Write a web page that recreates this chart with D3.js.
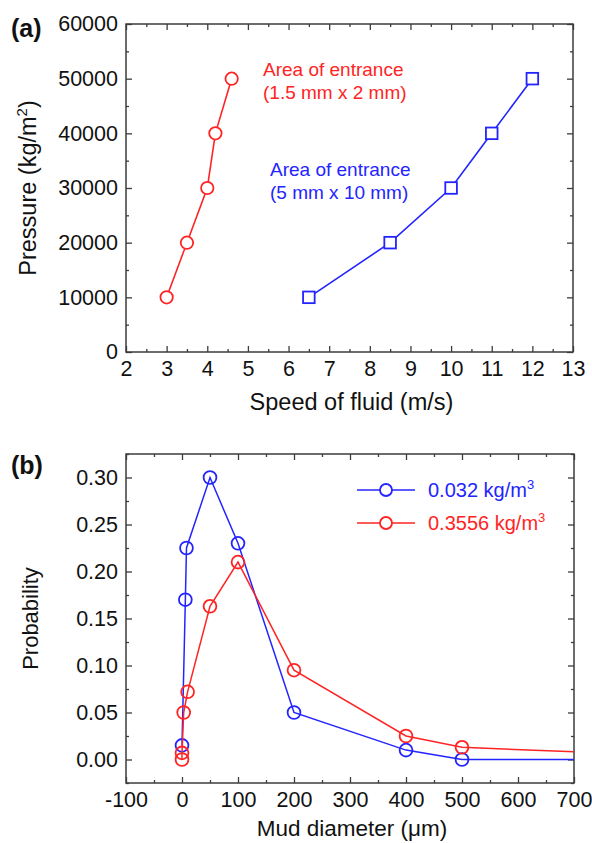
<!DOCTYPE html>
<html>
<head>
<meta charset="utf-8">
<script src="https://cdn.jsdelivr.net/npm/d3@7"></script>
<style>
  body { margin: 0; background: #fff; }
  svg { display: block; font-family: "Liberation Sans", Arial, sans-serif; }
</style>
</head>
<body>
<div id="chart"></div>
<script>
// Panel (a): pressure vs speed of fluid
const speedSmall = [3, 3.5, 4, 4.2, 4.6];
const pressureSmall = [10000, 20000, 30000, 40000, 50000];
const speedLarge = [6.5, 8.5, 10, 11, 12];
const pressureLarge = [10000, 20000, 30000, 40000, 50000];
const speedTicks = [2, 3, 4, 5, 6, 7, 8, 9, 10, 11, 12, 13];
const pressureTicks = [0, 10000, 20000, 30000, 40000, 50000, 60000];

// Panel (b): probability vs mud diameter
const diamLow = [0, 6, 8, 50, 100, 200, 400, 500, 1000];
const probLow = [0.015, 0.17, 0.225, 0.30, 0.23, 0.05, 0.01, 0.0, 0.0];
const diamHigh = [0, 0, 3, 10, 50, 100, 200, 400, 500, 1000];
const probHigh = [0.0, 0.007, 0.05, 0.072, 0.163, 0.21, 0.095, 0.025, 0.013, 0.001];
const diamTicks = [-100, 0, 100, 200, 300, 400, 500, 600, 700];
const probTicks = [0, 0.05, 0.10, 0.15, 0.20, 0.25, 0.30];

const RED = "#ff2424";
const BLUE = "#2424ff";
const AXIS = "#3c3c3c";

const svg = d3.select("#chart").append("svg")
    .attr("width", 592)
    .attr("height", 843);

// draws box + inward ticks on all four sides, labels on bottom/left
function drawFrame(g, x, y, w, h, xMajor, xMinor, yMajor, yMinor, xFmt, yFmt) {
    const major = 6, minor = 3;
    const sides = [
        { ax: d3.axisBottom, s: x, t: `translate(0,${h})`, lab: true },
        { ax: d3.axisTop, s: x, t: "translate(0,0)", lab: false },
        { ax: d3.axisLeft, s: y, t: "translate(0,0)", lab: true },
        { ax: d3.axisRight, s: y, t: `translate(${w},0)`, lab: false }
    ];
    sides.forEach(sd => {
        const isX = sd.s === x;
        const maj = sd.ax(sd.s).tickValues(isX ? xMajor : yMajor)
            .tickSize(-major).tickSizeOuter(0).tickPadding(isX ? 9 : 8)
            .tickFormat(sd.lab ? (isX ? xFmt : yFmt) : "");
        const min = sd.ax(sd.s).tickValues(isX ? xMinor : yMinor)
            .tickSize(-minor).tickSizeOuter(0).tickFormat("");
        const ga = g.append("g").attr("transform", sd.t).call(maj);
        const gm = g.append("g").attr("transform", sd.t).call(min);
        [ga, gm].forEach(a => {
            a.select(".domain").remove();
            a.selectAll("line").attr("stroke", AXIS).attr("stroke-width", 1.3);
            a.selectAll("text").attr("fill", "#111")
                .style("font-size", "21.5px").style("font-family", "Liberation Sans, Arial, sans-serif");
        });
    });
    g.append("rect")
        .attr("width", w).attr("height", h)
        .attr("fill", "none").attr("stroke", AXIS).attr("stroke-width", 1.5);
}

// ---------- panel (a) ----------
const aL = 126, aT = 24, aW = 573 - 126, aH = 352 - 24;
const ga = svg.append("g").attr("transform", `translate(${aL},${aT})`);
const xA = d3.scaleLinear().domain([2, 13]).range([0, aW]);
const yA = d3.scaleLinear().domain([0, 60000]).range([aH, 0]);

drawFrame(ga, xA, yA, aW, aH,
    speedTicks, d3.range(2.5, 13, 1),
    pressureTicks, d3.range(5000, 60000, 10000),
    d => String(d), d => String(d));

const smallPts = speedSmall.map((v, i) => [v, pressureSmall[i]]);
const largePts = speedLarge.map((v, i) => [v, pressureLarge[i]]);
const lineA = d3.line().x(d => xA(d[0])).y(d => yA(d[1]));

ga.append("path").datum(smallPts).attr("d", lineA)
    .attr("fill", "none").attr("stroke", RED).attr("stroke-width", 1.6);
ga.selectAll(".c-small").data(smallPts).enter().append("circle")
    .attr("cx", d => xA(d[0])).attr("cy", d => yA(d[1])).attr("r", 6.2)
    .attr("fill", "#fff").attr("stroke", RED).attr("stroke-width", 1.8);

ga.append("path").datum(largePts).attr("d", lineA)
    .attr("fill", "none").attr("stroke", BLUE).attr("stroke-width", 1.6);
ga.selectAll(".s-large").data(largePts).enter().append("rect")
    .attr("x", d => xA(d[0]) - 5.8).attr("y", d => yA(d[1]) - 5.8)
    .attr("width", 11.6).attr("height", 11.6)
    .attr("fill", "#fff").attr("stroke", BLUE).attr("stroke-width", 1.8);

svg.append("text").attr("x", 11).attr("y", 37)
    .style("font-size", "25px").style("font-weight", "bold").attr("fill", "#111")
    .text("(a)");

const noteA = svg.append("g").style("font-size", "19px");
noteA.append("text").attr("x", 263).attr("y", 76).attr("fill", RED).text("Area of entrance");
noteA.append("text").attr("x", 263).attr("y", 99).attr("fill", RED).text("(1.5 mm x 2 mm)");
noteA.append("text").attr("x", 270).attr("y", 176).attr("fill", BLUE).text("Area of entrance");
noteA.append("text").attr("x", 270).attr("y", 199).attr("fill", BLUE).text("(5 mm x 10 mm)");

const yLabA = svg.append("text")
    .attr("transform", `translate(36,${aT + aH / 2}) rotate(-90)`)
    .attr("text-anchor", "middle").attr("fill", "#111")
    .style("font-size", "23.5px");
yLabA.append("tspan").text("Pressure (kg/m");
yLabA.append("tspan").attr("dy", -9).style("font-size", "15px").text("2");
yLabA.append("tspan").attr("dy", 9).text(")");

svg.append("text")
    .attr("x", aL + aW / 2 + 2).attr("y", 410)
    .attr("text-anchor", "middle").attr("fill", "#111")
    .style("font-size", "23.5px")
    .text("Speed of fluid (m/s)");

// ---------- panel (b) ----------
const bL = 126, bT = 454, bW = 574 - 126, bH = 783 - 454;
const gb = svg.append("g").attr("transform", `translate(${bL},${bT})`);
const xB = d3.scaleLinear().domain([-100, 700]).range([0, bW]);
const yB = d3.scaleLinear().domain([-0.025, 0.325]).range([bH, 0]);

drawFrame(gb, xB, yB, bW, bH,
    diamTicks, d3.range(-50, 700, 100),
    probTicks, d3.range(-0.025, 0.33, 0.05),
    d => String(d), d3.format(".2f"));

svg.append("clipPath").attr("id", "clipB")
    .append("rect").attr("width", bW).attr("height", bH);

const plotB = gb.append("g").attr("clip-path", "url(#clipB)");
const lineB = d3.line().x(d => xB(d[0])).y(d => yB(d[1]));

const lowPts = diamLow.map((v, i) => [v, probLow[i]]);
const highPts = diamHigh.map((v, i) => [v, probHigh[i]]);

[[lowPts, BLUE], [highPts, RED]].forEach(([pts, col]) => {
    plotB.append("path").datum(pts).attr("d", lineB)
        .attr("fill", "none").attr("stroke", col).attr("stroke-width", 1.5);
    plotB.selectAll(null).data(pts).enter().append("circle")
        .attr("cx", d => xB(d[0])).attr("cy", d => yB(d[1])).attr("r", 6.4)
        .attr("fill", "#fff").attr("fill-opacity", 0.0).attr("stroke", col).attr("stroke-width", 1.8);
});

// legend
const legend = svg.append("g");
[["0.032 kg/m", BLUE, 490], ["0.3556 kg/m", RED, 523]].forEach(([lab, col, ly]) => {
    legend.append("line").attr("x1", 357).attr("x2", 415).attr("y1", ly).attr("y2", ly)
        .attr("stroke", col).attr("stroke-width", 1.5);
    legend.append("circle").attr("cx", 386).attr("cy", ly).attr("r", 6)
        .attr("fill", "#fff").attr("stroke", col).attr("stroke-width", 1.8);
    const t = legend.append("text").attr("x", 428).attr("y", ly + 7)
        .attr("fill", col).style("font-size", "20px");
    t.append("tspan").text(lab);
    t.append("tspan").attr("dy", -8).style("font-size", "13px").text("3");
});

svg.append("text").attr("x", 11).attr("y", 474)
    .style("font-size", "25px").style("font-weight", "bold").attr("fill", "#111")
    .text("(b)");

svg.append("text")
    .attr("transform", `translate(38,${bT + bH / 2}) rotate(-90)`)
    .attr("text-anchor", "middle").attr("fill", "#111")
    .style("font-size", "22px")
    .text("Probability");

svg.append("text")
    .attr("x", bL + bW / 2 + 2).attr("y", 836)
    .attr("text-anchor", "middle").attr("fill", "#111")
    .style("font-size", "22.5px")
    .text("Mud diameter (\u03bcm)");
</script>
</body>
</html>
